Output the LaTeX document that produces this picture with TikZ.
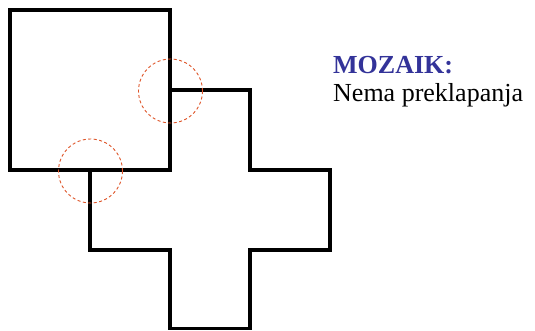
\documentclass[tikz,border=0pt]{standalone}
\usepackage{fontspec}
\setmainfont{Liberation Serif}
\usetikzlibrary{positioning}
\definecolor{mozblue}{RGB}{51,51,153}
\definecolor{ringred}{RGB}{222,84,40}
\tikzset{
  tile edge/.style={
    draw=black, line width=3.5pt, line join=miter
  },
  joint ring/.style={
    draw=ringred, line width=0.9pt, dash pattern=on 3pt off 2.5pt
  },
  note title/.style={
    font=\fontsize{26}{28}\selectfont\bfseries, text=mozblue,
    anchor=base west, inner sep=0pt
  },
  note text/.style={
    font=\fontsize{26}{28}\selectfont, text=black,
    anchor=base west, inner sep=0pt
  }
}

\begin{document}
\begin{tikzpicture}[x=1pt, y=-1pt]
  \useasboundingbox (0,0) rectangle (535,330);

  % square tile
  \draw [tile edge] (10,10) rectangle (170,170);

  % cross tile
  \draw [tile edge] (170,90) -- (250,90) -- (250,170) -- (330,170)
    -- (330,250) -- (250,250) -- (250,328.5) -- (170,328.5)
    -- (170,250) -- (90,250) -- (90,170);

  % joints
  \draw [joint ring] (170.5,91) circle (32);
  \draw [joint ring] (90.5,171) circle (32);

  \node (title) [note title] at (333,73) {MOZAIK:};
  \node (desc) [note text] at (333,101) {Nema preklapanja};
\end{tikzpicture}
\end{document}
